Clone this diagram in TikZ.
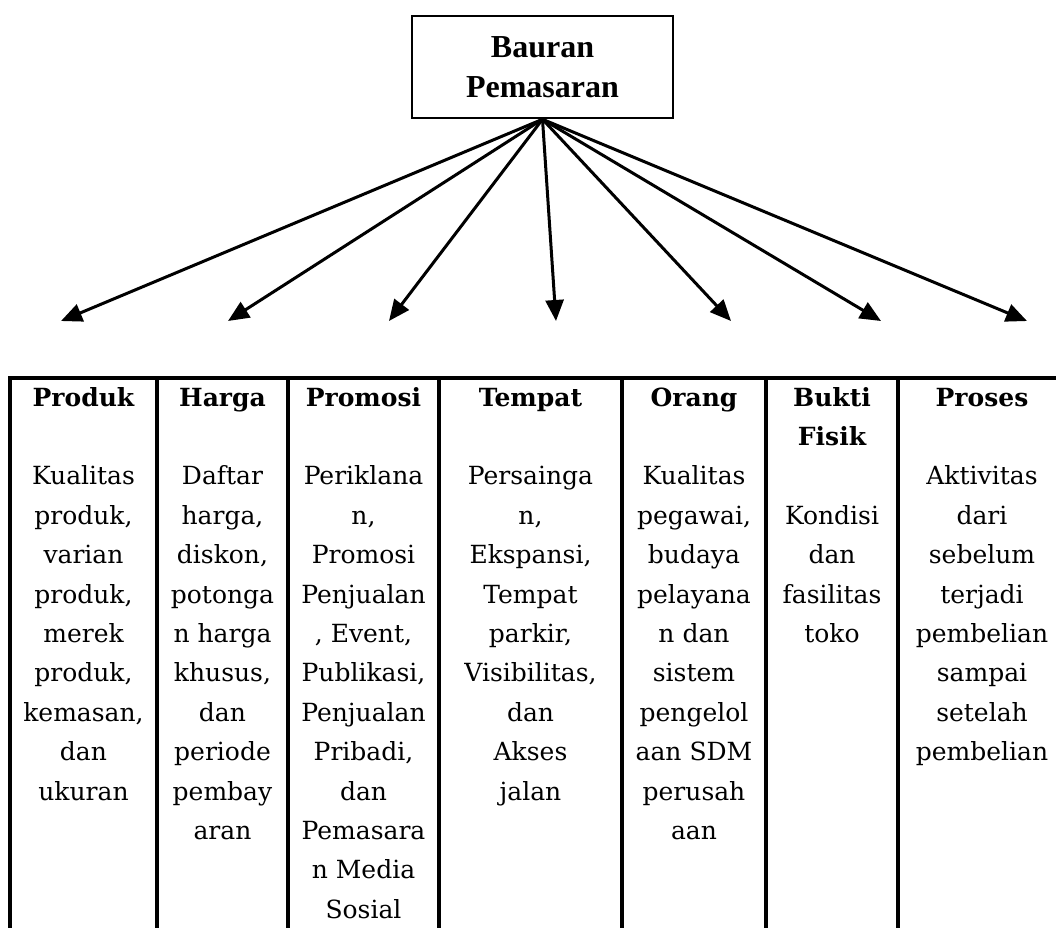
\documentclass[tikz,border=0pt]{standalone}
\usepackage{fontspec}
\setmainfont{DejaVu Serif}
\newfontfamily\timesfont{Liberation Serif}
\usetikzlibrary{arrows.meta}
\newcommand\coltext[4]{%
  \foreach \tx [count=\i from #3] in {#4} {\node[body] (#1-\i) at (#2,{406+39.4*\i}) {\tx};}}
\begin{document}
\begin{tikzpicture}[x=1pt,y=-1pt,
  body/.style={font=\fontsize{25}{30}\selectfont, anchor=base, inner sep=0pt},
  hdr/.style={font=\fontsize{25}{30}\selectfont\bfseries, anchor=base, inner sep=0pt},
  arr/.style={line width=3pt, -{Triangle[length=21pt,width=18pt]}},
  rule/.style={line width=3.2pt}]
\useasboundingbox (0,0) rectangle (1056,928);
\node[draw, line width=2.6pt, minimum width=261pt, minimum height=102pt, inner sep=0pt,
  align=center, font=\timesfont\bfseries\fontsize{32}{40}\selectfont] (box) at (542.5,67) {Bauran\\Pemasaran};
\coordinate (t1) at (61,321);
\coordinate (t2) at (228,321);
\coordinate (t3) at (389,321);
\coordinate (t4) at (556,321);
\coordinate (t5) at (731,321);
\coordinate (t6) at (881,321);
\coordinate (t7) at (1027,321);
\foreach \k in {1,...,7} {\draw[arr] (box.south) -- (t\k);}
% table
\draw[rule] (8.4,378) -- (1056,378);
\foreach \x in {10,157,288,439,622,766,898} {\draw[rule] (\x,378) -- (\x,928);}
% headers
\node[hdr] (h1) at (83.5,406) {Produk};
\node[hdr] (h2) at (222.5,406) {Harga};
\node[hdr] (h3) at (363.5,406) {Promosi};
\node[hdr] (h4) at (530.5,406) {Tempat};
\node[hdr] (h5) at (694,406) {Orang};
\node[hdr] (h6) at (832,406) {Bukti};
\node[hdr] (h6b) at (832,445.4) {Fisik};
\node[hdr] (h7) at (982,406) {Proses};
% bodies
\coltext{c1}{83.5}{2}{Kualitas,{produk,},varian,{produk,},merek,{produk,},{kemasan,},dan,ukuran}
\coltext{c2}{222.5}{2}{Daftar,{harga,},{diskon,},potonga,n harga,{khusus,},dan,periode,pembay,aran}
\coltext{c3}{363.5}{2}{Periklana,{n,},Promosi,Penjualan,{, Event,},{Publikasi,},Penjualan,{Pribadi,},dan,Pemasara,n Media,Sosial}
\coltext{c4}{530.5}{2}{Persainga,{n,},{Ekspansi,},Tempat,{parkir,},{Visibilitas,},dan,Akses,jalan}
\coltext{c5}{694}{2}{Kualitas,{pegawai,},budaya,pelayana,n dan,sistem,pengelol,aan SDM,perusah,aan}
\coltext{c6}{832}{3}{Kondisi,dan,fasilitas,toko}
\coltext{c7}{982}{2}{Aktivitas,dari,sebelum,terjadi,pembelian,sampai,setelah,pembelian}
\end{tikzpicture}
\end{document}
